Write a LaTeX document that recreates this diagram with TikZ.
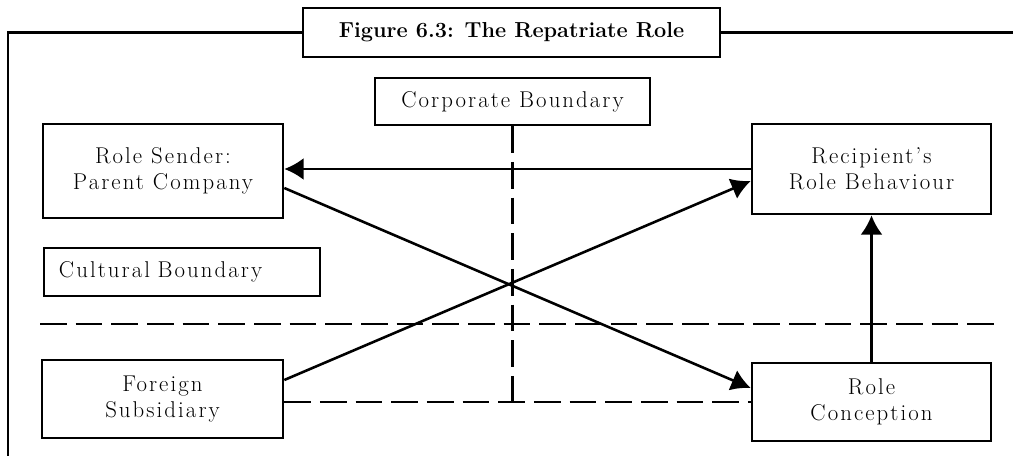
\documentclass[tikz,border=0pt]{standalone}
\usepackage{fontspec}
\setmainfont{Latin Modern Roman}[LetterSpace=9]
\newfontfamily\titlefont{Latin Modern Roman}
\usetikzlibrary{arrows.meta}
\tikzset{>={Latex[length=0.58cm,width=0.66cm]}}
\tikzset{box/.style={draw, line width=2.2pt, align=center, inner sep=0pt, font=\fontsize{19.5}{22.5}\selectfont}}
\tikzset{bnd/.style={line width=2.2pt, dash pattern=on 0.8cm off 0.27cm}}

\begin{document}
\begin{tikzpicture}[x=0.03cm,y=-0.03cm,line width=2.2pt]
	\useasboundingbox (0,0) rectangle (1013,456);
	\node[box, minimum width=12.51cm, minimum height=1.47cm, font=\titlefont\bfseries\fontsize{18.5}{21}\selectfont] (title) at (511.5,32.5) {Figure 6.3: The Repatriate Role};
	\node[box, minimum width=8.25cm, minimum height=1.41cm] (corp) at (512.5,101.5) {Corporate Boundary};
	\node[box, minimum width=7.2cm, minimum height=2.82cm] (sender) at (163,171) {Role Sender:\\Parent Company};
	\node[box, minimum width=7.17cm, minimum height=2.7cm] (recipient) at (871.5,169) {Recipient's\\Role Behaviour};
	\node[box, text width=7.38cm, inner xsep=0.45cm, align=left, minimum height=1.44cm] (cultural) at (182,272) {Cultural Boundary};
	\node[box, minimum width=7.23cm, minimum height=2.34cm] (foreign) at (162.5,399) {Foreign\\Subsidiary};
	\node[box, minimum width=7.17cm, minimum height=2.34cm] (conception) at (871.5,402) {Role\\Conception};
	
	\coordinate (ftl) at (8,32.5);
	\coordinate (fbl) at (8,460);
	\coordinate (ftr) at (1016,32.5);
	\draw (title.west) -- (ftl) -- (fbl);
	\draw (title.east) -- (ftr);
	
	\coordinate (cwest) at (40,324);
	\coordinate (ceast) at (1000,324);
	\draw[bnd] (cwest) -- (ceast);
	\draw[bnd] (corp.south) -- (corp.south |- conception.west);
	\draw[bnd] (foreign.east |- conception.west) -- (conception.west);
	
	\draw[->] (recipient.west) -- (sender.east |- recipient.west);
	\draw[->] ([yshift=-0.51cm]sender.east) -- ([yshift=0.42cm]conception.west);
	\draw[->] ([yshift=0.57cm]foreign.east) -- ([yshift=-0.36cm]recipient.west);
	\draw[->] (conception.north) -- (recipient.south);
\end{tikzpicture}
\end{document}
